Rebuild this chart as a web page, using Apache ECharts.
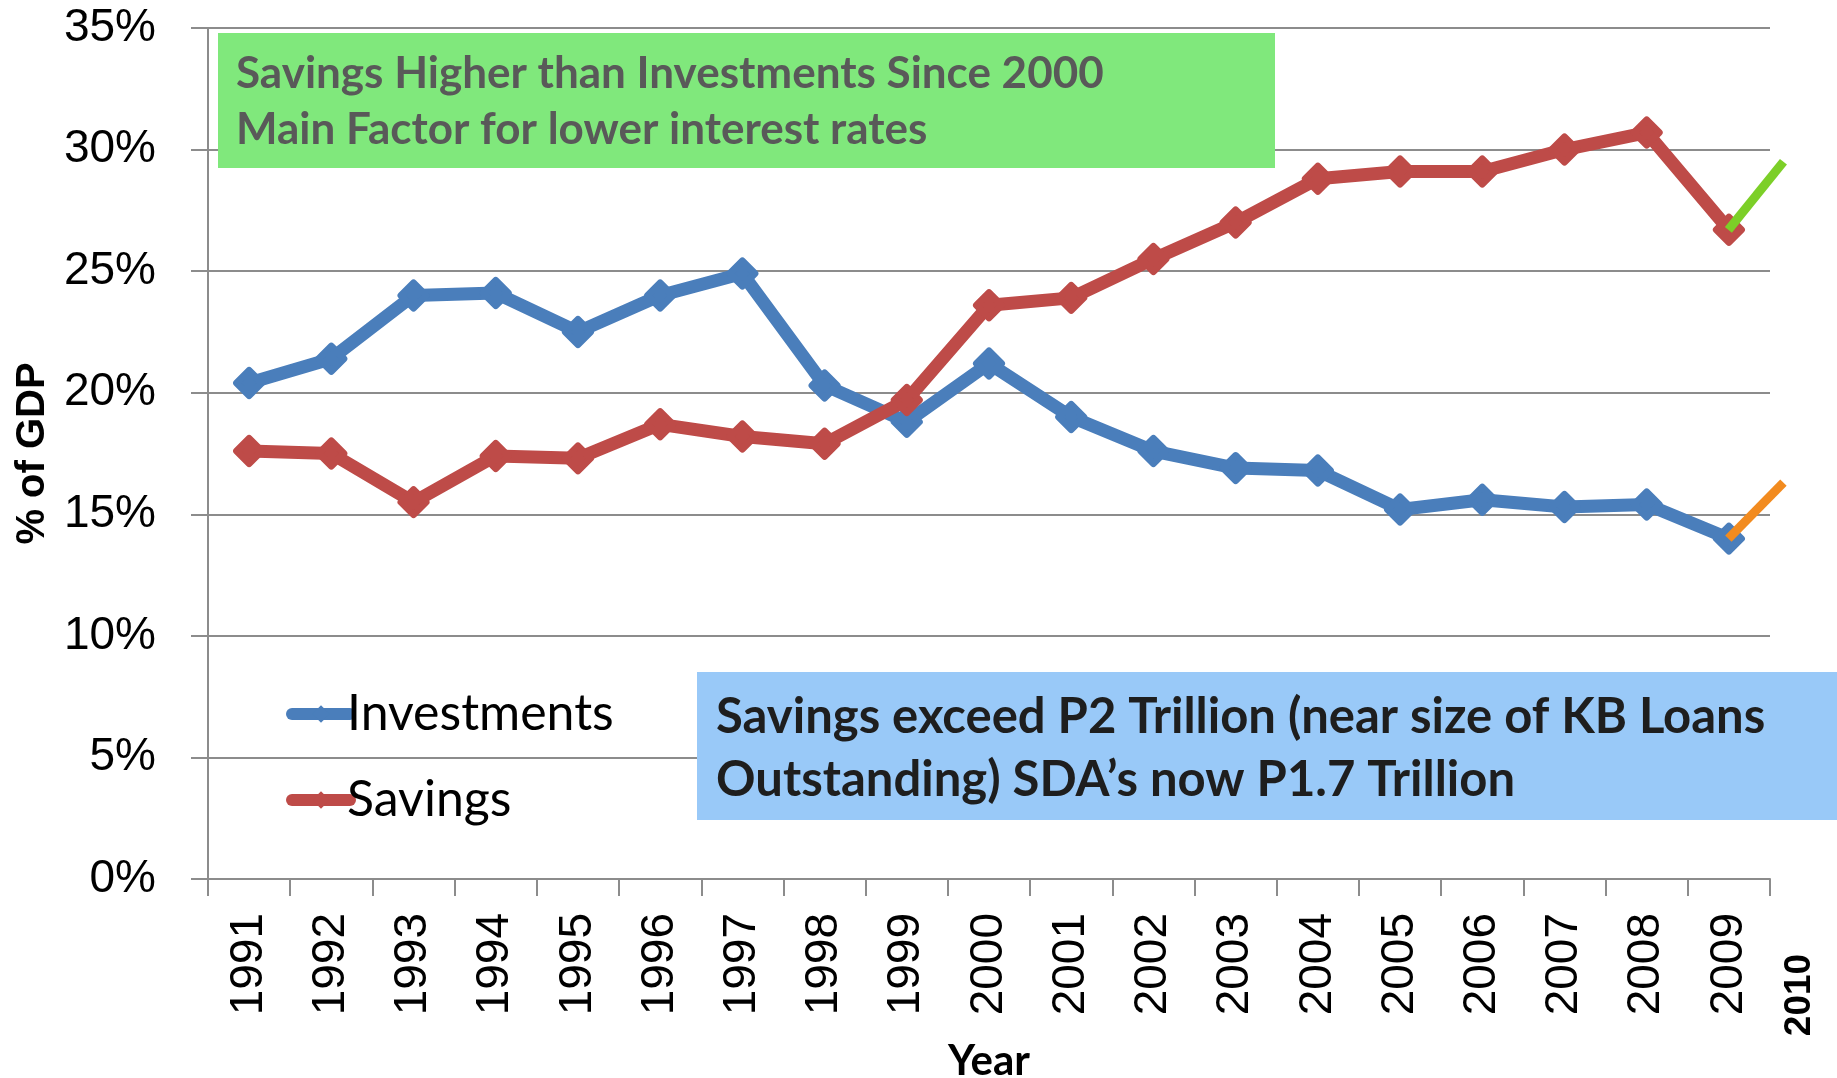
<!DOCTYPE html>
<html>
<head>
<meta charset="utf-8">
<script src="https://cdn.jsdelivr.net/npm/echarts@6/dist/echarts.min.js"></script>
<style>
    html, body { margin: 0; padding: 0; background: #fff; }
    #main { width: 1837px; height: 1078px; }
</style>
</head>
<body>
<div id="main"></div>
<script>
// savings vs investments, % of GDP
var years = ['1991', '1992', '1993', '1994', '1995', '1996', '1997', '1998', '1999', '2000',
    '2001', '2002', '2003', '2004', '2005', '2006', '2007', '2008', '2009'];
var investments = [20.4, 21.4, 24.0, 24.1, 22.5, 24.0, 24.9, 20.3, 18.8, 21.2,
    19.0, 17.6, 16.9, 16.8, 15.2, 15.6, 15.3, 15.4, 14.0];
var savings = [17.6, 17.5, 15.5, 17.4, 17.3, 18.7, 18.2, 17.9, 19.7, 23.6,
    23.9, 25.5, 27.0, 28.8, 29.1, 29.1, 30.0, 30.7, 26.7];
// 2010 projection stubs: [year, value]
var savingsProj = [[2009, 26.7], [2009.67, 29.5]];
var investProj = [[2009, 14.0], [2009.67, 16.3]];
var yTicks = { min: 0, max: 35, interval: 5 };

(function () {
    var myChart = echarts.init(document.getElementById('main'));
    var grey = '#8c8c8c';
    var blue = '#4a7ebb', red = '#be4b48';
    var option = {
        animation: false,
        color: [blue, red],
        grid: [
            { left: 208, right: 67, top: 28, bottom: 199, containLabel: false, outerBoundsMode: 'none' },
            // same scale, a bit wider, so the 2010 stubs can poke past the axis end
            { left: 208, right: 40, top: 28, bottom: 199, containLabel: false, outerBoundsMode: 'none' }
        ],
        legend: {
            orient: 'vertical',
            left: 281,
            top: 684,
            itemWidth: 58,
            itemHeight: 22,
            itemGap: 36,
            data: ['Investments', 'Savings'],
            lineStyle: { width: 12, cap: 'round' },
            itemStyle: { borderWidth: 0 },
            textStyle: { fontFamily: 'Lato', fontSize: 50, color: '#000', padding: [0, 0, 0, -8] }
        },
        xAxis: [
            {
                type: 'category',
                data: years,
                boundaryGap: true,
                name: 'Year',
                nameLocation: 'middle',
                nameGap: 161,
                nameTextStyle: { fontFamily: 'Lato', fontWeight: 'bold', fontSize: 42, color: '#000', verticalAlign: 'top' },
                axisLine: { lineStyle: { color: grey, width: 2 } },
                axisTick: { show: true, length: 17, lineStyle: { color: grey, width: 2 } },
                axisLabel: {
                    rotate: 90,
                    margin: 34,
                    fontFamily: 'Liberation Sans',
                    fontSize: 46,
                    color: '#000'
                }
            },
            {
                // hidden value axis (years) in the wider grid; 82.18 px per year like the category axis
                type: 'value',
                gridIndex: 1,
                min: 1990.5,
                max: 2009.835,
                show: false
            }
        ],
        yAxis: [
            {
                type: 'value',
                min: yTicks.min,
                max: yTicks.max,
                interval: yTicks.interval,
                name: '% of GDP',
                nameLocation: 'middle',
                nameRotate: 90,
                nameGap: 154,
                nameTextStyle: { fontFamily: 'Liberation Sans', fontWeight: 'bold', fontSize: 40, color: '#000' },
                axisLine: { show: true, lineStyle: { color: grey, width: 2 } },
                axisTick: { show: true, length: 17, lineStyle: { color: grey, width: 2 } },
                splitLine: { lineStyle: { color: grey, width: 2 } },
                axisLabel: {
                    formatter: '{value}%',
                    margin: 52,
                    fontFamily: 'Liberation Sans',
                    fontSize: 46,
                    color: '#000'
                }
            },
            {
                type: 'value',
                gridIndex: 1,
                min: yTicks.min,
                max: yTicks.max,
                show: false
            }
        ],
        graphic: [
            {
                type: 'rect',
                shape: { x: 218, y: 33, width: 1057, height: 135 },
                style: { fill: '#80e87c' },
                z: 10
            },
            {
                type: 'text',
                left: 236, top: 46,
                style: {
                    text: 'Savings Higher than Investments Since 2000\nMain Factor for lower interest rates',
                    fontFamily: 'Lato', fontWeight: 'bold', fontSize: 44, lineHeight: 56, fill: '#595959'
                },
                z: 11
            },
            {
                type: 'rect',
                shape: { x: 697, y: 672, width: 1140, height: 148 },
                style: { fill: '#99c9f8' },
                z: 10
            },
            {
                type: 'text',
                left: 716, top: 686,
                style: {
                    text: 'Savings exceed P2 Trillion (near size of KB Loans\nOutstanding) SDA\u2019s now P1.7 Trillion',
                    fontFamily: 'Lato', fontWeight: 'bold', fontSize: 49, lineHeight: 63, fill: '#1e1e1e'
                },
                z: 11
            },
            {
                type: 'text',
                x: 1800, y: 995,
                rotation: Math.PI / 2,
                style: {
                    text: '2010',
                    fontFamily: 'Liberation Sans', fontWeight: 'bold', fontSize: 37, fill: '#000',
                    align: 'center', verticalAlign: 'middle'
                },
                z: 11
            }
        ],
        series: [
            {
                name: 'Investments',
                type: 'line',
                data: investments,
                symbol: 'diamond',
                symbolSize: [25, 25],
                itemStyle: { color: blue, borderColor: blue, borderWidth: 7, borderJoin: 'round' },
                lineStyle: { width: 13, cap: 'round', join: 'round' },
                z: 3
            },
            {
                name: 'Savings',
                type: 'line',
                data: savings,
                symbol: 'diamond',
                symbolSize: [25, 25],
                itemStyle: { color: red, borderColor: red, borderWidth: 7, borderJoin: 'round' },
                lineStyle: { width: 13, cap: 'round', join: 'round' },
                z: 4
            },
            {
                name: 'Savings 2010',
                type: 'line',
                xAxisIndex: 1,
                yAxisIndex: 1,
                data: savingsProj,
                symbol: 'none',
                lineStyle: { width: 9, color: '#7ccf28' },
                z: 5
            },
            {
                name: 'Investments 2010',
                type: 'line',
                xAxisIndex: 1,
                yAxisIndex: 1,
                data: investProj,
                symbol: 'none',
                lineStyle: { width: 9, color: '#f28b1f' },
                z: 5
            }
        ]
    };
    myChart.setOption(option);
    window.addEventListener('resize', function () {
        myChart.resize();
    });
})();
</script>
</body>
</html>
